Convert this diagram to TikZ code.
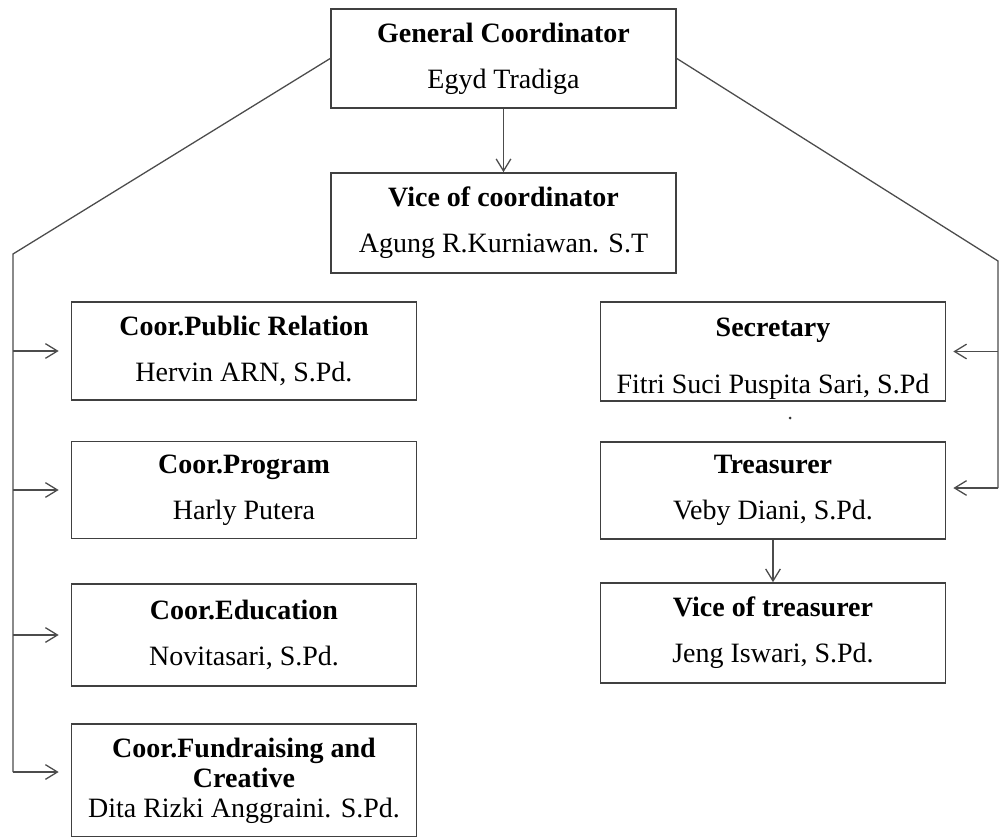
\documentclass[tikz,border=0pt]{standalone}
\usepackage{fontspec}
\setmainfont{Liberation Serif}
\usetikzlibrary{arrows.meta,calc,positioning}
\tikzset{post/.style={rectangle, draw=black!75, line width=1.4pt, fill=white, align=center, inner sep=0pt,
minimum width=10.35cm, font=\fontsize{23.9}{39}\selectfont}}
\tikzset{link/.style={draw=black!70, line width=1.1pt}}

\begin{document}
\begin{tikzpicture}[x=0.03cm,y=-0.03cm,>={Straight Barb[length=3.6mm,width=4.4mm]}]

\useasboundingbox (0,0) rectangle (999,837);

% the top

    \node[post,minimum height=2.97cm] (gen) at (503.5,58.5)
    {\textbf{General Coordinator}\\Egyd Tradiga};
    \node[post,minimum height=3cm] (vice) at (503.5,223)
    {\textbf{Vice of coordinator}\\Agung R.Kurniawan. S.T};
    \draw[link,->] (gen.south) -- (vice.north);

% the left column

    \node[post,minimum height=2.94cm] (pub_rel) at (244,351)
    {\textbf{Coor.Public Relation}\\Hervin ARN, S.Pd.};
    \node[post,minimum height=2.91cm] (prog) at (244,490)
    {\textbf{Coor.Program}\\Harly Putera};
    \node[post,minimum height=3.06cm] (edu) at (244,635)
    {\textbf{Coor.Education}\\Novitasari, S.Pd.};
    \node[post,minimum height=3.39cm,font=\fontsize{23.9}{25.5}\selectfont] (fund) at (244,780.5)
    {\textbf{Coor.Fundraising and}\\\textbf{Creative}\\Dita Rizki Anggraini. S.Pd.};

    \coordinate (l_bend) at (13,254);
    \coordinate (l_end) at (13,772);
    \draw[link] (gen.west) -- (l_bend) -- (l_end);
    \draw[link,->,shorten >=0.36cm] (l_bend |- pub_rel.west) -- (pub_rel.west);
    \draw[link,->,shorten >=0.36cm] (l_bend |- prog.west) -- (prog.west);
    \draw[link,->,shorten >=0.36cm] (l_bend |- edu.west) -- (edu.west);
    \draw[link,->,shorten >=0.36cm] (l_end) -- (l_end -| fund.west);

% the right column

    \node[post,minimum height=2.97cm] (sec) at (773,351.5)
    {\mbox{}\\[-11pt]\textbf{Secretary}\\[10pt]Fitri Suci Puspita Sari, S.Pd};
    \node[post,minimum height=2.91cm] (tre) at (773,490.5)
    {\textbf{Treasurer}\\Veby Diani, S.Pd.};
    \node[post,minimum height=3cm] (vice_tre) at (773,633)
    {\textbf{Vice of treasurer}\\Jeng Iswari, S.Pd.};
    \draw[link,->] (tre.south) -- (vice_tre.north);
    \fill[black!80] (790,418) circle (1.5);

    \coordinate (r_bend) at (998,261);
    \coordinate (r_end) at (998,488);
    \draw[link] (gen.east) -- (r_bend) -- (r_end);
    \draw[link,->,shorten >=0.21cm] (r_bend |- sec.east) -- (sec.east);
    \draw[link,->,shorten >=0.21cm] (r_end) -- (r_end -| tre.east);

\end{tikzpicture}
\end{document}
